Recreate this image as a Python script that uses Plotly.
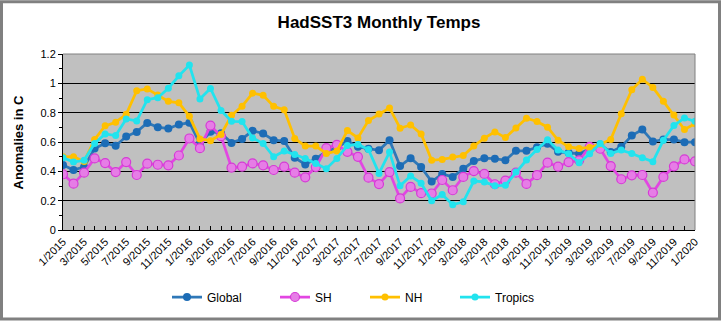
import plotly.graph_objects as go

months = [f"{m}/{y}" for y in range(2015, 2020) for m in range(1, 13)] + ["1/2020"]

global_vals = [0.443, 0.409, 0.430, 0.556, 0.592, 0.574, 0.637, 0.669, 0.730, 0.701,
               0.692, 0.719, 0.732, 0.590, 0.670, 0.660, 0.594, 0.621, 0.676, 0.658,
               0.612, 0.606, 0.493, 0.447, 0.486, 0.535, 0.560, 0.606, 0.567, 0.554,
               0.543, 0.612, 0.436, 0.490, 0.429, 0.330, 0.382, 0.362, 0.418, 0.470,
               0.490, 0.486, 0.475, 0.540, 0.540, 0.565, 0.588, 0.533, 0.527, 0.520,
               0.554, 0.583, 0.531, 0.567, 0.644, 0.685, 0.603, 0.617, 0.617, 0.599,
               0.599]

sh_vals = [0.380, 0.316, 0.391, 0.488, 0.456, 0.395, 0.463, 0.375, 0.452, 0.445,
           0.441, 0.508, 0.624, 0.558, 0.712, 0.640, 0.425, 0.432, 0.454, 0.441,
           0.409, 0.432, 0.391, 0.359, 0.429, 0.558, 0.581, 0.533, 0.499, 0.357,
           0.313, 0.395, 0.215, 0.294, 0.251, 0.249, 0.341, 0.271, 0.362, 0.402,
           0.382, 0.312, 0.337, 0.391, 0.314, 0.374, 0.459, 0.432, 0.463, 0.475,
           0.567, 0.554, 0.436, 0.346, 0.373, 0.375, 0.255, 0.362, 0.434, 0.481,
           0.468]

nh_vals = [0.499, 0.500, 0.467, 0.617, 0.710, 0.735, 0.789, 0.950, 0.962, 0.920,
           0.877, 0.867, 0.775, 0.621, 0.609, 0.651, 0.782, 0.844, 0.933, 0.918,
           0.843, 0.820, 0.624, 0.572, 0.572, 0.522, 0.538, 0.678, 0.628, 0.746,
           0.791, 0.832, 0.694, 0.716, 0.655, 0.475, 0.481, 0.497, 0.508, 0.572,
           0.626, 0.669, 0.630, 0.696, 0.762, 0.740, 0.701, 0.612, 0.567, 0.556,
           0.563, 0.585, 0.617, 0.793, 0.956, 1.028, 0.972, 0.877, 0.784, 0.685,
           0.725]

tropics_vals = [0.493, 0.463, 0.475, 0.590, 0.655, 0.644, 0.757, 0.744, 0.888, 0.902,
                0.967, 1.051, 1.125, 0.893, 0.965, 0.815, 0.741, 0.739, 0.628, 0.590,
                0.499, 0.538, 0.515, 0.488, 0.454, 0.418, 0.488, 0.576, 0.583, 0.549,
                0.386, 0.531, 0.301, 0.368, 0.319, 0.199, 0.242, 0.172, 0.192, 0.334,
                0.328, 0.301, 0.305, 0.395, 0.477, 0.549, 0.615, 0.545, 0.520, 0.459,
                0.520, 0.590, 0.522, 0.545, 0.522, 0.493, 0.466, 0.612, 0.712, 0.764,
                0.741]

y_ticks = [0, 0.2, 0.4, 0.6, 0.8, 1, 1.2]
y_tick_text = ["0", "0.2", "0.4", "0.6", "0.8", "1", "1.2"]

FONT = "Liberation Sans, Arial, sans-serif"

# plot area in pixels
L, R, T, B = 63, 695, 54, 231
W, H = 721, 322
PW, PH = R - L, B - T


def px(xp):
    return (xp - L) / PW


def py(yp):
    return (B - yp) / PH


x = list(range(len(months)))

series = [
    ("Global", global_vals, "#2F78B8", dict(color="#1C6CB6", size=8), "legend"),
    ("SH", sh_vals, "#E246E2", dict(color="#E67DE6", size=9,
                                     line=dict(color="#D63AD6", width=1.2)), "legend2"),
    ("NH", nh_vals, "#FFC000", dict(color="#FFC000", size=7), "legend3"),
    ("Tropics", tropics_vals, "#22E3EE", dict(color="#22E3EE", size=7), "legend4"),
]

fig = go.Figure()
for name, vals, lc, mk, lg in series:
    fig.add_trace(go.Scatter(
        x=x, y=vals, name=name, mode="lines+markers",
        line=dict(color=lc, width=2.75), marker=mk, legend=lg,
    ))

leg_common = dict(orientation="h", yanchor="middle", y=py(297), xanchor="left",
                  font=dict(family=FONT, size=12, color="#000000"),
                  bgcolor="rgba(0,0,0,0)", borderwidth=0)
line_starts = [173, 281, 371, 461]

fig.update_layout(
    width=W, height=H,
    margin=dict(l=L, r=W - R, t=T, b=H - B, pad=0),
    paper_bgcolor="#FFFFFF",
    plot_bgcolor="#C0C0C0",
    showlegend=True,
    legend=dict(leg_common, x=px(line_starts[0] - 6)),
    legend2=dict(leg_common, x=px(line_starts[1] - 6)),
    legend3=dict(leg_common, x=px(line_starts[2] - 6)),
    legend4=dict(leg_common, x=px(line_starts[3] - 6)),
    title=dict(text="<b>HadSST3 Monthly Temps</b>", x=0.5, xref="paper",
               xanchor="center", y=1 - 22 / H, yanchor="middle",
               font=dict(family=FONT, size=17, color="#000000")),
    xaxis=dict(
        range=[0, len(months) - 1], tickmode="array",
        tickvals=x[::2], ticktext=months[::2], tickangle=-45,
        tickfont=dict(family=FONT, size=11, color="#000000"),
        ticks="inside", ticklen=4, tickcolor="#000000",
        minor=dict(ticks="inside", ticklen=4, tickcolor="#000000", dtick=1, tick0=0),
        showgrid=False, zeroline=False, showline=True, linecolor="#000000",
        linewidth=1, automargin=False, fixedrange=True,
    ),
    yaxis=dict(
        range=[0, 1.2], tickmode="array", tickvals=y_ticks, ticktext=y_tick_text,
        tickfont=dict(family=FONT, size=11, color="#000000"),
        ticks="outside", ticklen=4, tickcolor="#000000",
        minor=dict(ticks="outside", ticklen=3, tickcolor="#000000", dtick=0.1, tick0=0,
                   showgrid=False),
        showgrid=True, gridcolor="#000000", gridwidth=1,
        zeroline=False, showline=True, linecolor="#000000", linewidth=1,
        automargin=False, fixedrange=True,
    ),
    annotations=[dict(
        text="<b>Anomalies in C</b>", xref="paper", yref="paper",
        x=px(18), y=py(143), xanchor="center", yanchor="middle", textangle=-90,
        showarrow=False, font=dict(family=FONT, size=13, color="#000000"),
    )],
    shapes=[
        # top and right plot border (gray)
        dict(type="line", xref="paper", yref="paper", x0=0, x1=1, y0=1, y1=1,
             line=dict(color="#808080", width=1), layer="above"),
        dict(type="line", xref="paper", yref="paper", x0=1, x1=1, y0=0, y1=1,
             line=dict(color="#808080", width=1), layer="above"),
        # outer chart frame
        dict(type="rect", xref="paper", yref="paper",
             x0=px(1.5), x1=px(W - 1.5), y0=py(H - 1.5), y1=py(1.5),
             line=dict(color="#808080", width=3), layer="above"),
    ],
)

fig.write_html("out.html")
